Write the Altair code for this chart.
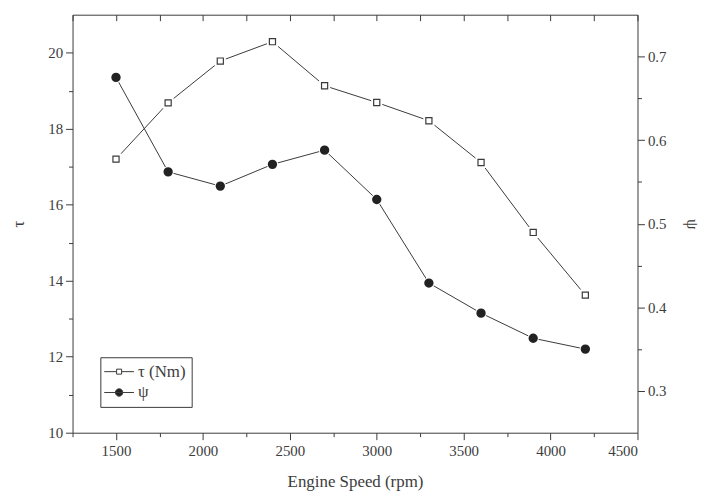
import altair as alt
import pandas as pd

# ---- data ----
speed = [1500, 1800, 2100, 2400, 2700, 3000, 3300, 3600, 3900, 4200]
torque = [17.20, 18.68, 19.78, 20.29, 19.13, 18.69, 18.21, 17.11, 15.27, 13.62]
psi = [0.675, 0.562, 0.545, 0.571, 0.588, 0.529, 0.429, 0.393, 0.363, 0.350]
series_names = ["τ (Nm)", "ψ"]

x_ticks = [1250, 1500, 1750, 2000, 2250, 2500, 2750, 3000, 3250, 3500, 3750, 4000, 4250, 4500]
y_left_ticks = [10, 11, 12, 13, 14, 15, 16, 17, 18, 19, 20]
y_right_ticks = [0.3, 0.35, 0.4, 0.45, 0.5, 0.55, 0.6, 0.65, 0.7]

FONT = "Liberation Serif"
TXT = "#3c3c3c"
LINE = "#3a3a3a"

df = pd.DataFrame({"speed": speed, "torque": torque, "psi": psi})
base = alt.Chart(df)

xscale = alt.Scale(domain=[1250, 4500], nice=False, zero=False)

x_bottom = alt.X(
    "speed:Q", scale=xscale, title="Engine Speed (rpm)",
    axis=alt.Axis(
        values=x_ticks, format="d", grid=False, domain=False,
        labelExpr="datum.value % 500 === 0 ? datum.label : ''",
        tickSize={"condition": {"test": "datum.value % 500 !== 0", "value": 4}, "value": 7},
        labelPadding=4, titlePadding=15,
    ),
)
x_top = alt.X(
    "speed:Q", scale=xscale, title=None,
    axis=alt.Axis(
        orient="top", values=x_ticks, labels=False, grid=False, domain=False,
        tickSize=6, offset=-6,
    ),
)
y_left = alt.Y(
    "torque:Q", scale=alt.Scale(domain=[10, 21], nice=False, zero=False), title="τ",
    axis=alt.Axis(
        orient="left", values=y_left_ticks, grid=False, domain=False,
        labelExpr="datum.value % 2 === 0 ? datum.label : ''",
        tickSize={"condition": {"test": "datum.value % 2 !== 0", "value": 4}, "value": 7},
        labelPadding=3, titlePadding=20,
    ),
)
y_right = alt.Y(
    "psi:Q", scale=alt.Scale(domain=[0.25, 0.75], nice=False, zero=False), title="ψ",
    axis=alt.Axis(
        orient="right", values=y_right_ticks, grid=False, domain=False, format=".1f",
        labelExpr="round(datum.value * 20) % 2 === 0 ? datum.label : ''",
        tickSize={"condition": {"test": "round(datum.value * 20) % 2 !== 0", "value": 4}, "value": 7},
        labelPadding=3, titlePadding=17,
    ),
)

# legend symbols: line - marker - line, kept left of the symbol's right edge
sq_path = ("M-4.1,0L-2.05,0"
           "M-2.02,-0.42L-1.18,-0.42L-1.18,0.42L-2.02,0.42Z"
           "M-1.15,0L0.9,0")
ci_path = ("M-4.1,0L0.9,0"
           "M-0.98,0A0.62,0.62 0 1,1 -2.22,0A0.62,0.62 0 1,1 -0.98,0Z")

leg = alt.Legend(
    title=None, orient="none", legendX=28, legendY=345,
    strokeColor=LINE, fillColor="white", padding=6, cornerRadius=0,
    symbolSize=144, symbolStrokeWidth=1, symbolOffset=14,
    labelFont=FONT, labelFontSize=17, labelColor=TXT, labelOffset=1, rowPadding=3,
)

tau_line = base.mark_line(color=LINE, strokeWidth=1).encode(x=x_bottom, y=y_left)
tau_halo = base.mark_point(shape="square", size=38, filled=True, fill="white",
                           stroke="white", strokeWidth=5, opacity=1).encode(x=x_bottom, y=y_left)
tau_pts = base.mark_point(shape="square", size=38, filled=True, fill="white",
                          stroke=LINE, strokeWidth=1.2, opacity=1).encode(x=x_bottom, y=y_left)
legend_layer = (
    base.transform_filter("false")
    .transform_calculate(series="'τ (Nm)'")
    .mark_point(stroke=LINE, strokeWidth=1, opacity=1, filled=True)
    .encode(
        x=x_bottom, y=y_left,
        shape=alt.Shape("series:N", scale=alt.Scale(domain=series_names, range=[sq_path, ci_path]), legend=leg),
        fill=alt.Fill("series:N", scale=alt.Scale(domain=series_names, range=["white", "#222222"]), legend=leg),
    )
)
tau_layer = alt.layer(tau_line, tau_halo, tau_pts, legend_layer)

psi_line = base.mark_line(color=LINE, strokeWidth=1).encode(x=x_top, y=y_right)
psi_halo = base.mark_point(shape="circle", size=55, filled=True, fill="white",
                           stroke="white", strokeWidth=4, opacity=1).encode(x=x_top, y=y_right)
psi_pts = base.mark_point(shape="circle", size=55, filled=True, fill="#222222",
                          stroke="#222222", opacity=1).encode(x=x_top, y=y_right)
psi_layer = alt.layer(psi_line, psi_halo, psi_pts)

chart = (
    alt.layer(tau_layer, psi_layer)
    .resolve_scale(y="independent")
    .resolve_axis(x="independent")
    .properties(
        width=569, height=421, background="white",
        autosize=alt.AutoSizeParams(type="none"),
        padding={"left": 65, "top": 5, "right": 70, "bottom": 62},
    )
    .configure_view(stroke=LINE, strokeWidth=1)
    .configure_axis(
        labelFont=FONT, labelFontSize=15, labelColor=TXT,
        titleFont=FONT, titleFontSize=17, titleColor=TXT, titleFontWeight="normal",
        tickColor=LINE, tickWidth=1,
    )
)

chart.save("out.html", embed_options={"renderer": "svg", "actions": False})
